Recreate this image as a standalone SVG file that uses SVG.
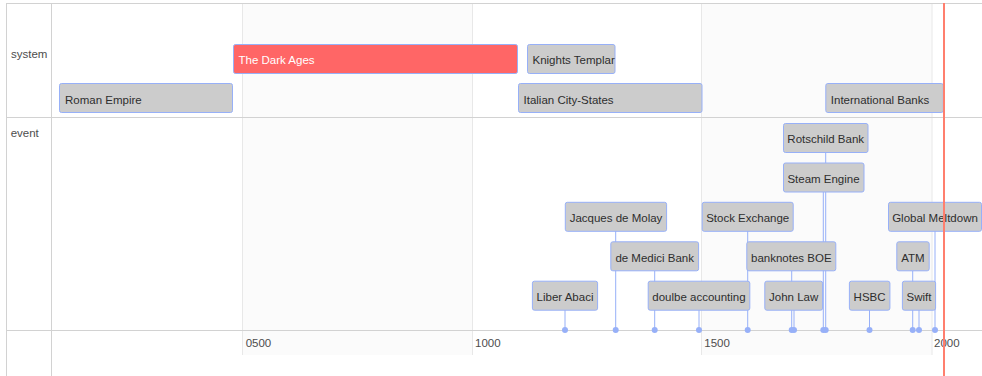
<svg xmlns="http://www.w3.org/2000/svg" width="982" height="376" viewBox="0 0 982 376">
<style>
text{font-family:"Liberation Sans",Arial,sans-serif;font-size:11.5px;fill:#2e2e2e}
.lbl{fill:#4d4d4d}
.axis{fill:#4d4d4d}
.box{fill:#cccccc;stroke:#97b0f8;stroke-width:1}
.red{fill:#ff6666;stroke:#97b0f8;stroke-width:1}
.wt{fill:#ffffff}
.ln{stroke:#97b0f8;stroke-width:1}
.dot{fill:#97b0f8}
.bd{stroke:#d2d2d2;stroke-width:1}
.gr{stroke:#e8e8e8;stroke-width:1}
.c{text-anchor:middle}
</style>
<rect x="0" y="0" width="982" height="376" fill="#ffffff"/>
<g id="background">
<rect x="242.5" y="3" width="230" height="352" fill="#fbfbfb"/>
<rect x="701.5" y="3" width="230.5" height="352" fill="#fbfbfb"/>
<line class="gr" x1="242.5" y1="3" x2="242.5" y2="355"/>
<line class="gr" x1="472.5" y1="3" x2="472.5" y2="355"/>
<line class="gr" x1="701.5" y1="3" x2="701.5" y2="355"/>
<line class="gr" x1="932" y1="3" x2="932" y2="355"/>
<line class="bd" x1="6" y1="3.5" x2="982" y2="3.5"/>
<line class="bd" x1="6.5" y1="3" x2="6.5" y2="376"/>
<line class="bd" x1="51.5" y1="3" x2="51.5" y2="376"/>
<line class="bd" x1="6" y1="117.5" x2="982" y2="117.5"/>
<line class="bd" x1="6" y1="330.5" x2="982" y2="330.5"/>
</g>
<g id="labels">
<text class="lbl" x="11" y="57.5">system</text>
<text class="lbl" x="10.7" y="136.7">event</text>
<text class="axis" x="245.7" y="347">0500</text>
<text class="axis" x="475" y="347">1000</text>
<text class="axis" x="704.3" y="347">1500</text>
<text class="axis" x="934" y="347">2000</text>
</g>
<g id="connectors">
<line class="ln" x1="565" y1="310" x2="565" y2="330"/>
<line class="ln" x1="615.7" y1="231" x2="615.7" y2="330"/>
<line class="ln" x1="654.7" y1="271" x2="654.7" y2="330"/>
<line class="ln" x1="699" y1="310" x2="699" y2="330"/>
<line class="ln" x1="747.7" y1="231" x2="747.7" y2="330"/>
<line class="ln" x1="791.7" y1="271" x2="791.7" y2="330"/>
<line class="ln" x1="794" y1="310" x2="794" y2="330"/>
<line class="ln" x1="823.3" y1="192" x2="823.3" y2="330"/>
<line class="ln" x1="825.7" y1="152" x2="825.7" y2="330"/>
<line class="ln" x1="869.5" y1="310" x2="869.5" y2="330"/>
<line class="ln" x1="912.7" y1="271" x2="912.7" y2="330"/>
<line class="ln" x1="919" y1="310" x2="919" y2="330"/>
<line class="ln" x1="935" y1="231" x2="935" y2="330"/>
<circle class="dot" cx="565" cy="330" r="3"/>
<circle class="dot" cx="615.7" cy="330" r="3"/>
<circle class="dot" cx="654.7" cy="330" r="3"/>
<circle class="dot" cx="699" cy="330" r="3"/>
<circle class="dot" cx="747.7" cy="330" r="3"/>
<circle class="dot" cx="791.7" cy="330" r="3"/>
<circle class="dot" cx="794" cy="330" r="3"/>
<circle class="dot" cx="823.3" cy="330" r="3"/>
<circle class="dot" cx="825.7" cy="330" r="3"/>
<circle class="dot" cx="869.5" cy="330" r="3"/>
<circle class="dot" cx="912.7" cy="330" r="3"/>
<circle class="dot" cx="919" cy="330" r="3"/>
<circle class="dot" cx="935" cy="330" r="3"/>
</g>
<g id="roman-empire"><rect class="box" x="59.5" y="83.5" width="173" height="29" rx="2"/><text x="65" y="103.5">Roman Empire</text></g>
<g id="dark-ages"><rect class="red" x="233.5" y="44.5" width="284" height="29" rx="2"/><text class="wt" x="238.5" y="64.2">The Dark Ages</text></g>
<g id="knights-templar"><rect class="box" x="527.5" y="44.5" width="87.5" height="29" rx="2"/><text x="532.5" y="64.2">Knights Templar</text></g>
<g id="italian-city-states"><rect class="box" x="518.5" y="83.5" width="183.5" height="29" rx="2"/><text x="523.5" y="103.5">Italian City-States</text></g>
<g id="international-banks"><rect class="box" x="825.8" y="83.5" width="117.5" height="29" rx="2"/><text x="830.8" y="103.5">International Banks</text></g>
<g id="rotschild-bank"><rect class="box" x="783.5" y="123.5" width="84.5" height="29" rx="2"/><text class="c" x="825.7" y="143.3">Rotschild Bank</text></g>
<g id="steam-engine"><rect class="box" x="783.5" y="163" width="80.5" height="29" rx="2"/><text class="c" x="823.5" y="182.8">Steam Engine</text></g>
<g id="jacques-de-molay"><rect class="box" x="565.3" y="202.3" width="101.3" height="29" rx="2"/><text class="c" x="616" y="222.2">Jacques de Molay</text></g>
<g id="stock-exchange"><rect class="box" x="702.2" y="202.3" width="91" height="29" rx="2"/><text class="c" x="747.7" y="222.2">Stock Exchange</text></g>
<g id="global-meltdown"><rect class="box" x="888.5" y="202.3" width="93" height="29" rx="2"/><text class="c" x="935" y="222.2">Global Meltdown</text></g>
<g id="de-medici-bank"><rect class="box" x="610.8" y="241.8" width="87.8" height="29" rx="2"/><text class="c" x="654.7" y="261.6">de Medici Bank</text></g>
<g id="banknotes-boe"><rect class="box" x="746.8" y="241.8" width="89" height="29" rx="2"/><text class="c" x="791.3" y="261.6">banknotes BOE</text></g>
<g id="atm"><rect class="box" x="896.8" y="241.8" width="32.4" height="29" rx="2"/><text class="c" x="913" y="261.6">ATM</text></g>
<g id="liber-abaci"><rect class="box" x="532.4" y="281.2" width="65.2" height="29" rx="2"/><text class="c" x="565" y="301">Liber Abaci</text></g>
<g id="doulbe-accounting"><rect class="box" x="648.2" y="281.2" width="101.6" height="29" rx="2"/><text class="c" x="699" y="301">doulbe accounting</text></g>
<g id="john-law"><rect class="box" x="764.8" y="281.2" width="57.8" height="29" rx="2"/><text class="c" x="793.7" y="301">John Law</text></g>
<g id="hsbc"><rect class="box" x="849.4" y="281.2" width="40.5" height="29" rx="2"/><text class="c" x="869.6" y="301">HSBC</text></g>
<g id="swift"><rect class="box" x="902.4" y="281.2" width="33.2" height="29" rx="2"/><text class="c" x="919" y="301">Swift</text></g>
<g id="current-time"><line x1="944" y1="3" x2="944" y2="376" stroke="#ff7f6e" stroke-width="2"/></g>
</svg>
